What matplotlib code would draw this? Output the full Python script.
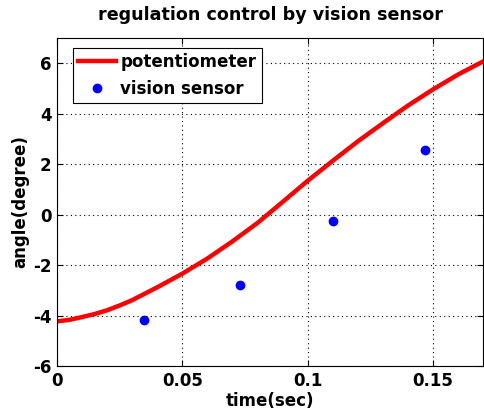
import matplotlib
matplotlib.use("Agg")
import matplotlib.pyplot as plt

# potentiometer trace
pot_time = [0, 0.005, 0.01, 0.015, 0.02, 0.025, 0.03, 0.04, 0.05, 0.06, 0.07, 0.08, 0.09,
            0.1, 0.11, 0.12, 0.13, 0.14, 0.15, 0.16, 0.17]
pot_angle = [-4.23, -4.17, -4.06, -3.94, -3.79, -3.6, -3.39, -2.88, -2.34, -1.74, -1.06, -0.33, 0.5,
             1.34, 2.13, 2.9, 3.62, 4.32, 4.96, 5.55, 6.07]

# vision sensor samples
vis_time = [0.0348, 0.0729, 0.110, 0.147]
vis_angle = [-4.16, -2.8, -0.27, 2.58]

xticks = [0, 0.05, 0.1, 0.15]
xticklabels = ['0', '0.05', '0.1', '0.15']
yticks = [-6, -4, -2, 0, 2, 4, 6]

plt.rcParams['font.family'] = ['DejaVu Sans']
plt.rcParams['font.weight'] = 'bold'
plt.rcParams['axes.unicode_minus'] = False

fig = plt.figure(figsize=(4.84, 4.17), dpi=100)
ax = fig.add_axes([57 / 484, 51 / 417, 426 / 484, 328 / 417])

ax.plot(pot_time, pot_angle, color='red', linewidth=3.2, label='potentiometer')
ax.plot(vis_time, vis_angle, linestyle='none', marker='o', markersize=6,
        color='blue', label='vision sensor')

ax.set_xlim(0, 0.17)
ax.set_ylim(-6, 7)
ax.set_xticks(xticks)
ax.set_xticklabels(xticklabels)
ax.set_yticks(yticks)
ax.tick_params(direction='in', top=True, right=True, labelsize=12, pad=4, length=4)
ax.grid(True, linestyle=(0, (1, 3)), color='black', linewidth=0.8)

ax.set_title('regulation control by vision sensor', fontsize=12.6, fontweight='bold', pad=13)
ax.set_xlabel('time(sec)', fontsize=12, fontweight='bold', labelpad=2)
ax.set_ylabel('angle(degree)', fontsize=12, fontweight='bold', labelpad=3)

leg = ax.legend(loc='upper left', bbox_to_anchor=(16 / 426, 1 - 10 / 328), borderaxespad=0,
                fontsize=12, fancybox=False, framealpha=1, edgecolor='black',
                handlelength=2.3, handletextpad=0.25, labelspacing=0.55,
                borderpad=0.3)
leg.get_frame().set_linewidth(0.8)

fig.savefig('out.png', dpi=100)
